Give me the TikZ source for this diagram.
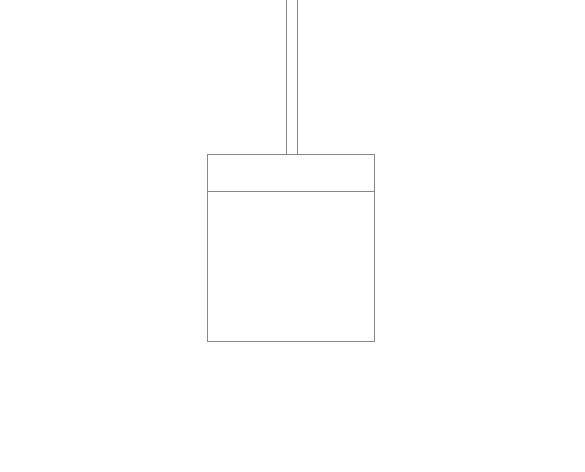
\documentclass[tikz,border=0pt]{standalone}
\begin{document}
\begin{tikzpicture}[x=1pt,y=-1pt,
  line/.style={draw=black!47,line width=0.8pt},
  boxshape/.style={line,rectangle,inner sep=0pt,minimum width=167pt,minimum height=187pt,anchor=north west},
  rodshape/.style={line,rectangle,inner sep=0pt,minimum width=11pt,minimum height=170pt,anchor=south west}]
\useasboundingbox (0,0) rectangle (585,471);
\clip (0,0) rectangle (585,471);
\node[rodshape] (rod) at (285.5,154.3) {};
\node[boxshape,fill=white] (box) at (207.3,154.3) {};
\coordinate (divl) at (207.3,191.8);
\coordinate (divr) at (374.3,191.8);
\draw[line] (divl) -- (divr);
\end{tikzpicture}
\end{document}
